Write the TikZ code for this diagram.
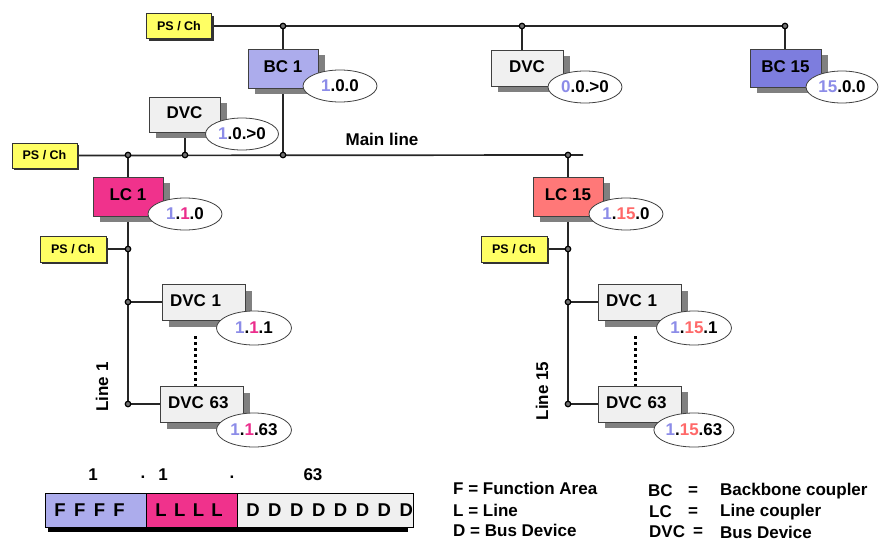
\documentclass[tikz,border=0pt]{standalone}
\usepackage{fontspec}
\setmainfont{Liberation Sans}
\usetikzlibrary{shapes.geometric, shadows, backgrounds}

\definecolor{psyellow}{RGB}{255,255,100}
\definecolor{bclight}{RGB}{172,172,236}
\definecolor{bcdark}{RGB}{125,125,222}
\definecolor{lcpink}{RGB}{240,50,140}
\definecolor{lcsalmon}{RGB}{255,120,120}
\definecolor{dvcgray}{RGB}{240,240,240}
\definecolor{shadowgray}{RGB}{128,128,128}
\definecolor{areacol}{RGB}{140,140,232}
\definecolor{linecol}{RGB}{235,45,140}
\definecolor{linefif}{RGB}{255,105,105}

\newcommand{\boxfnt}{\fontsize{17}{20}\selectfont\bfseries}
\newcommand{\smallfnt}{\fontsize{12.5}{14}\selectfont\bfseries}

\tikzset{
  bus/.style={line width=1.7pt, black!85},
  junc/.style={circle, draw=black, fill=black!55, line width=1.2pt, inner sep=0pt, minimum size=5.5pt},
  unitbox/.style={draw=black!75, line width=0.8pt, inner sep=0pt, text depth=3pt, font=\boxfnt,
    drop shadow={shadow xshift=7pt, shadow yshift=-6pt, fill=shadowgray, opacity=1}},
  devbox/.style={unitbox, fill=dvcgray, minimum height=36pt, text width=67pt, align=left, inner xsep=8pt},
  psbox/.style={draw=black!80, fill=psyellow, line width=0.8pt, inner sep=0pt, font=\smallfnt,
    minimum width=65pt, minimum height=25pt,
    drop shadow={shadow xshift=2pt, shadow yshift=-2pt, fill=black!80, opacity=1}},
  addr/.style={ellipse, draw=black!75, fill=white, line width=0.8pt, inner sep=0pt,
    minimum width=74pt, minimum height=32pt, font=\boxfnt},
  dotline/.style={line width=3pt, dash pattern=on 3pt off 3pt},
  txt/.style={font=\boxfnt, inner sep=0pt},
  barfnt/.style={font=\fontsize{18.5}{20}\selectfont\bfseries, inner sep=0pt}
}

\begin{document}
\begin{tikzpicture}[x=1pt, y=-1pt]
        \useasboundingbox (0,0) rectangle (879,541);

        % power supplies
        \node[psbox] (pstop) at (179,26) {PS / Ch};
        \node[psbox] (psmain) at (44.5,155.5) {PS / Ch};
        \node[psbox, minimum width=66pt, minimum height=26pt] (psone) at (73,249) {PS / Ch};
        \node[psbox, minimum width=66pt, minimum height=26pt] (psfif) at (514,249) {PS / Ch};

        % backbone and main line
        \node[unitbox, fill=bclight, minimum width=70pt, minimum height=39pt] (bcone) at (283,68.5) {BC 1};
        \node[unitbox, fill=dvcgray, minimum width=72pt, minimum height=36pt] (dvctop) at (527,68) {DVC};
        \node[unitbox, fill=bcdark, minimum width=71pt, minimum height=38pt] (bcfif) at (785.5,68) {BC 15};
        \node[unitbox, fill=dvcgray, minimum width=71pt, minimum height=35pt] (dvcmain) at (184.5,114.5) {DVC};
        \node[unitbox, fill=lcpink, minimum width=70pt, minimum height=39pt] (lcone) at (128,196.5) {LC 1};
        \node[unitbox, fill=lcsalmon, minimum width=70pt, minimum height=39pt] (lcfif) at (568,196.5) {LC 15};

        % lines
        \node[devbox] (dvconeA) at (203.5,302.5) {DVC 1};
        \node[devbox] (dvcsixA) at (201.5,404.5) {DVC 63};
        \node[devbox] (dvconeB) at (639.5,302.5) {DVC 1};
        \node[devbox] (dvcsixB) at (639.5,404) {DVC 63};

        % addresses
        \node[addr] at (340,86) {\textcolor{areacol}{1}.0.0};
        \node[addr] at (585,87) {\textcolor{areacol}{0}.0.>0};
        \node[addr, minimum width=72pt] at (842,87) {\textcolor{areacol}{15}.0.0};
        \node[addr, minimum width=73pt] at (242,134) {\textcolor{areacol}{1}.0.>0};
        \node[addr] at (185,214) {\textcolor{areacol}{1}.\textcolor{linecol}{1}.0};
        \node[addr] at (626,214) {\textcolor{areacol}{1}.\textcolor{linefif}{15}.0};
        \node[addr, minimum width=75pt, minimum height=34pt] at (254,328) {\textcolor{areacol}{1}.\textcolor{linecol}{1}.1};
        \node[addr, minimum width=75pt, minimum height=34pt] at (254,430) {\textcolor{areacol}{1}.\textcolor{linecol}{1}.63};
        \node[addr, minimum width=75pt, minimum height=34pt] at (694,328) {\textcolor{areacol}{1}.\textcolor{linefif}{15}.1};
        \node[addr, minimum width=75pt, minimum height=34pt] at (694,430) {\textcolor{areacol}{1}.\textcolor{linefif}{15}.63};

        % junctions
        \node[junc] (jtopA) at (283,26) {};
        \node[junc] (jtopB) at (522,26) {};
        \node[junc] (jtopC) at (785,26) {};
        \node[junc] (jmainA) at (128,155) {};
        \node[junc] (jmainB) at (185,155) {};
        \node[junc] (jmainC) at (283,155) {};
        \node[junc] (jmainD) at (568,155) {};
        \coordinate (mainend) at (583,155);
        \node[junc] (jApw) at (128,249) {};
        \node[junc] (jAone) at (128,302) {};
        \node[junc] (jAsix) at (128,404) {};
        \node[junc] (jBpw) at (568,249) {};
        \node[junc] (jBone) at (568,302) {};
        \node[junc] (jBsix) at (568,404) {};
        \coordinate (dotA) at (195,336);
        \coordinate (dotB) at (635,336);

        \begin{scope}[on background layer]
            \draw[bus] (pstop.east) -- (jtopC);
            \draw[bus] (psmain.east) -- (mainend);
            \draw[bus] (jtopA) -- (jmainC);
            \draw[bus] (jtopB) -- (jtopB |- dvctop.north);
            \draw[bus] (jtopC) -- (jtopC |- bcfif.north);
            \draw[bus] (jmainB |- dvcmain.south) -- (jmainB);
            \draw[bus] (jmainA) -- (jAsix);
            \draw[bus] (jmainD) -- (jBsix);
            \draw[bus] (psone.east) -- (jApw);
            \draw[bus] (psfif.east) -- (jBpw);
            \draw[bus] (jAone) -- (jAone -| dvconeA.west);
            \draw[bus] (jAsix) -- (jAsix -| dvcsixA.west);
            \draw[bus] (jBone) -- (jBone -| dvconeB.west);
            \draw[bus] (jBsix) -- (jBsix -| dvcsixB.west);
            \draw[dotline] (dotA) -- (dotA |- dvcsixA.north);
            \draw[dotline] (dotB) -- (dotB |- dvcsixB.north);
        \end{scope}

        \node[txt] (mainlbl) at (382,139) {Main line};
        \node[txt, rotate=90] (lineone) at (102,387) {Line 1};
        \node[txt, rotate=90] (linefifteen) at (542,391) {Line 15};

        % address format
        \fill (48,493) rectangle (408,532);
        \draw[fill=bclight, line width=1pt] (45,493) rectangle (146,527);
        \draw[fill=lcpink, line width=1pt] (146,493) rectangle (237,527);
        \draw[fill=dvcgray, line width=1pt] (237,493) rectangle (413,527);
        \foreach \i in {0,...,3} \node[barfnt] at (60+\i*19.7,510) {F};
        \foreach \i in {0,...,3} \node[barfnt] at (161+\i*18.7,510) {L};
        \foreach \i in {0,...,7} \node[barfnt] at (253+\i*21.9,510) {D};
        \node[txt] at (93,475) {1};
        \node[txt] at (143,477) {.};
        \node[txt] at (163,475) {1};
        \node[txt] at (232,477) {.};
        \node[txt] at (313,475) {63};

        % legend
        \node[txt, anchor=west] at (453,488) {F = Function Area};
        \node[txt, anchor=west] at (453,510) {L = Line};
        \node[txt, anchor=west] at (453,530) {D = Bus Device};
        \node[txt, anchor=west] at (648,491) {BC};
        \node[txt] at (693,491) {=};
        \node[txt, anchor=west] at (720,491) {Backbone coupler};
        \node[txt, anchor=west] at (649,512) {LC};
        \node[txt] at (693,512) {=};
        \node[txt, anchor=west] at (720,512) {Line coupler};
        \node[txt, anchor=west] at (649,532) {DVC};
        \node[txt] at (698,532) {=};
        \node[txt, anchor=west] at (720,532) {Bus Device};
    \end{tikzpicture}
\end{document}
